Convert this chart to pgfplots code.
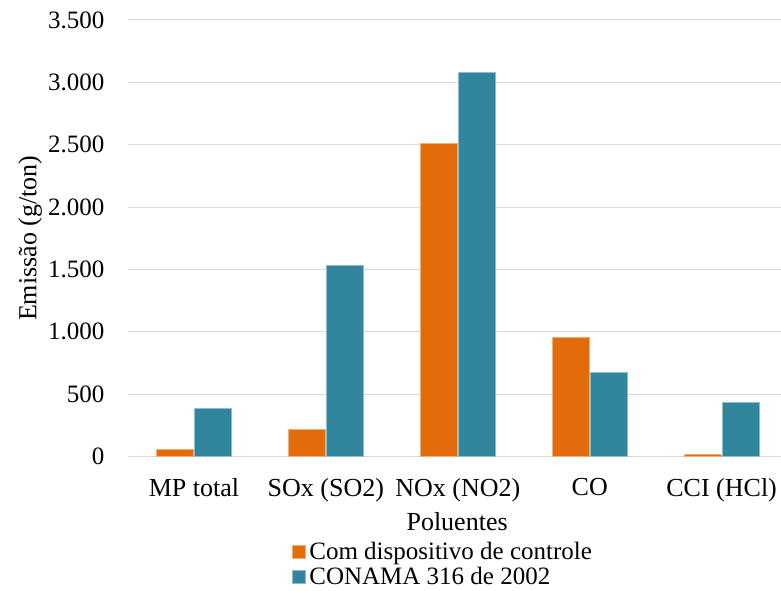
\documentclass[border=0pt]{standalone}
\usepackage{fontspec}
\setmainfont{Liberation Serif}
\usepackage{pgfplots}
\pgfplotsset{compat=1.18}

\definecolor{orangebar}{RGB}{227,108,10}
\definecolor{tealbar}{RGB}{49,133,156}
\definecolor{gridgray}{RGB}{217,217,217}

\begin{document}
\begin{tikzpicture}
\begin{axis}[
  scale only axis,
  width=653pt, height=436.5pt,
  ybar=1pt, bar width=37pt,
  xmin=-0.5, xmax=4.45,
  ymin=0, ymax=3500,
  ytick={0,500,...,3500},
  xtick={0,1,2,3,4},
  xticklabels={MP total, SOx (SO2), NOx (NO2), CO, CCI (HCl)},
  axis x line*=bottom,
  axis y line*=left,
  x axis line style={gridgray, line width=1.2pt, -},
  y axis line style={draw=none},
  tick style={draw=none},
  ymajorgrids,
  grid style={gridgray, line width=1pt},
  xticklabel style={font=\fontsize{26}{30}\selectfont, yshift=-14pt},
  yticklabel style={font=\fontsize{25}{30}\selectfont, xshift=-20pt},
  xlabel={Poluentes},
  ylabel={Emissão (g/ton)},
  label style={font=\fontsize{26}{30}\selectfont},
  xlabel style={at={(axis description cs:0.504,-0.150)}, anchor=center},
  ylabel style={at={(axis description cs:-0.150,0.5)}, anchor=center},
  legend style={
    font=\fontsize{25}{30}\selectfont,
    draw=none, fill=none,
    at={(axis description cs:0.246,-0.192)}, anchor=north west,
    nodes={inner ysep=0pt, inner xsep=4pt},
    row sep=5.5pt,
  },
  legend cell align=left,
  legend image code/.code={
    \fill[#1] (0pt,-6.5pt) rectangle (13pt,6.5pt);
  },
  /pgf/number format/.cd, 1000 sep={.}, assume math mode=true,
]
\addplot[fill=orangebar, draw=orangebar!55!white, line width=0.5pt]
  coordinates {(0,60) (1,215) (2,2510) (3,955) (4,20)};
\addplot[fill=tealbar, draw=tealbar!55!white, line width=0.5pt]
  coordinates {(0,385) (1,1535) (2,3080) (3,675) (4,435)};
\legend{Com dispositivo de controle, CONAMA 316 de 2002}
\end{axis}
\pgfresetboundingbox
\path ([shift={(-128pt,-134.5pt)}]current axis.south west) rectangle ++(781pt,591pt);
\end{tikzpicture}
\end{document}
